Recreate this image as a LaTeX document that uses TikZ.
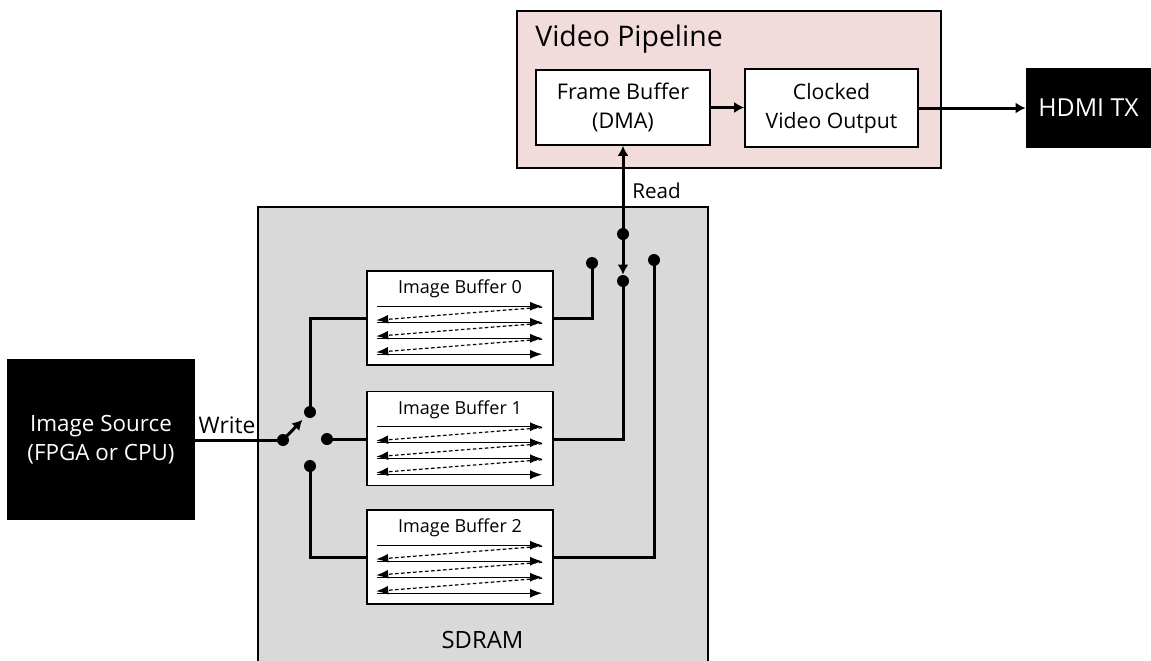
\documentclass[tikz,border=0pt]{standalone}
\usepackage{fontspec}
\setmainfont{Open Sans}
\usetikzlibrary{arrows.meta,calc}
\definecolor{sdramgray}{RGB}{217,217,217}
\definecolor{vppink}{RGB}{242,220,219}
\begin{document}
\begin{tikzpicture}[x=0.5pt,y=-0.5pt,
  box/.style={draw=black, line width=0.8pt, fill=white, inner sep=0pt, align=center},
  blk/.style={fill=black, text=white, inner sep=0pt, align=center},
  wire/.style={line width=1.5pt},
  tip/.style={-{Latex[length=5pt,width=5.5pt]}},
  dot/.style={circle, fill=black, inner sep=0pt, minimum size=6pt},
  rowarrow/.style={line width=0.6pt, -{Latex[length=6pt,width=4.4pt]}},
  retrace/.style={line width=0.6pt, dash pattern=on 1.8pt off 1.2pt, -{Latex[length=6pt,width=4.4pt]}},
  buf/.style={box, minimum width=93pt, minimum height=47pt},
  lbl/.style={inner sep=0pt}
]
\useasboundingbox (0,0) rectangle (1151,660);

% containers
\node[draw=black, line width=0.6pt, fill=sdramgray, inner sep=0pt, minimum width=225pt, minimum height=231.5pt] (sdram) at (483,438.5) {};
\node[draw=black, line width=0.8pt, fill=vppink, inner sep=0pt, minimum width=212pt, minimum height=78.5pt] (vp) at (729,89.5) {};
\node[lbl, anchor=base west, font=\fontsize{14.2}{16}\selectfont] (vpl) at (535,46) {Video Pipeline};
\node[lbl, font=\fontsize{11.9}{14}\selectfont] (sdl) at (482.5,639.5) {SDRAM};

% main blocks
\node[blk, minimum width=94pt, minimum height=80.5pt, font=\fontsize{11.2}{14.6}\selectfont] (src) at (101,439.5) {Image Source\\(FPGA or CPU)};
\node[box, minimum width=87pt, minimum height=37.5pt, font=\fontsize{10.8}{14.5}\selectfont] (fb) at (623,107.5) {Frame Buffer\\(DMA)};
\node[box, minimum width=86.5pt, minimum height=39pt, font=\fontsize{10.6}{14.5}\selectfont] (cvo) at (831.5,108) {Clocked\\Video Output};
\node[blk, minimum width=62.5pt, minimum height=40pt, font=\fontsize{12.4}{14}\selectfont] (hdmi) at (1088.5,108) {HDMI TX};

% image buffers
\node[buf] (b0) at (460,318) {};
\node[buf] (b1) at (460,438.5) {};
\node[buf] (b2) at (460,557) {};
\foreach \b/\n in {b0/0,b1/1,b2/2}{
  \node[lbl, font=\fontsize{9}{10}\selectfont] (\b t) at ($(\b.north)+(0,19)$) {Image Buffer \n};
  \foreach \i in {0,1,2,3}{
    \draw[rowarrow] ($(\b.north west)+(11,36+16*\i)$) -- ($(\b.north west)+(176,36+16*\i)$);
  }
  \foreach \i in {0,1,2}{
    \draw[retrace] ($(\b.north west)+(176,37+16*\i)$) -- ($(\b.north west)+(10,50+16*\i)$);
  }
}

% switch contacts
\node[dot] (s0) at (283,440) {};
\node[dot] (s1) at (310,412) {};
\node[dot] (s2) at (327,439) {};
\node[dot] (s3) at (310,466) {};
% read-side contacts
\node[dot] (r0) at (592,263) {};
\node[dot] (r1) at (623,281) {};
\node[dot] (r2) at (654,260) {};
\node[dot] (rd) at (623,234) {};

% write path
\draw[wire] (src.east |- s0) -- (s0);
\node[lbl, anchor=base, font=\fontsize{11.4}{13}\selectfont] (wl) at (227,433) {Write};
\draw[wire, tip] (s0.center) -- ($(s1.center)!0.28!(s0.center)$);
\draw[wire] (s1.center) |- (b0.west);
\draw[wire] (s2.center) -- (s2.center -| b1.west);
\draw[wire] (s3.center) |- (b2.west);

% read side
\draw[wire] (b0.east) -| (r0.center);
\draw[wire] (b1.east |- s2) -| (r1.center);
\draw[wire] (b2.east) -| (r2.center);
\draw[wire, tip] (rd.center) -- (fb.south);
\draw[wire, tip] (rd.center) -- (r1.north);
\node[lbl, anchor=base west, font=\fontsize{10.3}{12}\selectfont] (rl) at (632,198) {Read};

% video pipeline
\draw[wire, tip] (fb.east) -- (fb.east -| cvo.west);
\draw[wire, tip] (cvo.east) -- (cvo.east -| hdmi.west);
\end{tikzpicture}
\end{document}
